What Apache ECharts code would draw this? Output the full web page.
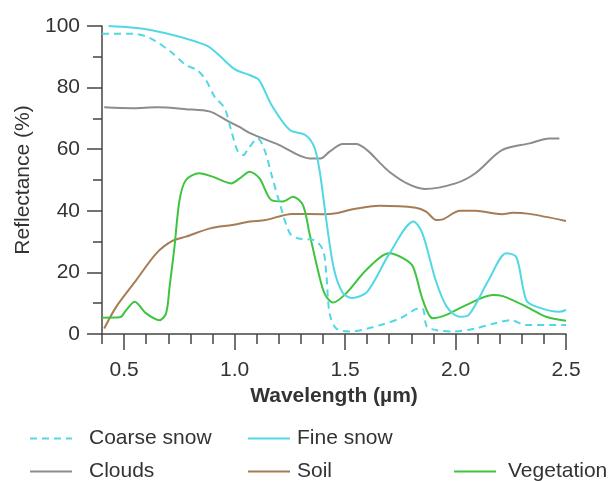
<!DOCTYPE html>
<html>
<head>
<meta charset="utf-8">
<script src="https://cdn.jsdelivr.net/npm/echarts@6/dist/echarts.min.js"></script>
<style>
  html, body { margin: 0; padding: 0; background: #fff; }
  #chart { width: 615px; height: 481px; }
</style>
</head>
<body>
<div id="chart"></div>
<script>
// wavelength (um), reflectance (%)
const coarseSnow = [[0.4,97.5],[0.54,97.5],[0.62,96],[0.71,91.7],[0.78,87.3],[0.83,85.7],[0.87,82.5],[0.91,77],[0.955,73.3],[0.985,66],[1.015,59.2],[1.04,58.1],[1.06,60],[1.105,63.5],[1.136,59.7],[1.17,51],[1.2,43.5],[1.25,32.7],[1.29,31],[1.36,30.5],[1.4,27.3],[1.415,19.7],[1.43,6.7],[1.46,1.8],[1.52,0.8],[1.66,2.9],[1.75,5.1],[1.84,8.4],[1.855,7.8],[1.87,2.4],[1.91,1.3],[1.99,0.8],[2.09,1.8],[2.18,3.5],[2.25,4.5],[2.32,2.9],[2.5,2.9]];
const fineSnow = [[0.43,100],[0.62,98.7],[0.87,93.8],[0.93,90.5],[1.0,86],[1.07,84],[1.11,82.5],[1.17,74],[1.25,66.2],[1.32,64.6],[1.36,60.8],[1.385,53],[1.415,37],[1.45,21],[1.49,13.3],[1.53,11.7],[1.6,13.7],[1.7,26],[1.81,36.5],[1.85,32.7],[1.91,17.5],[1.96,8.9],[2.02,5.6],[2.06,6.2],[2.15,17.5],[2.23,26.2],[2.275,25],[2.32,11],[2.365,8.9],[2.47,7.2],[2.5,7.8]];
const clouds = [[0.41,73.6],[0.54,73.3],[0.65,73.6],[0.78,73],[0.89,72.2],[0.96,69.5],[1.02,67.3],[1.07,65.2],[1.2,61.4],[1.34,57],[1.39,57],[1.43,59.2],[1.49,61.7],[1.55,61.7],[1.6,59.7],[1.66,55.4],[1.7,52.7],[1.78,48.9],[1.86,47.1],[2.0,48.9],[2.09,52.2],[2.21,59.7],[2.335,61.9],[2.425,63.5],[2.47,63.5]];
const soil = [[0.41,1.8],[0.465,8.9],[0.555,17.5],[0.646,26.2],[0.72,30.3],[0.78,31.6],[0.89,34.3],[0.99,35.4],[1.07,36.5],[1.14,37],[1.26,39],[1.4,38.9],[1.46,39.2],[1.535,40.5],[1.656,41.6],[1.82,41],[1.867,39.7],[1.913,37],[1.942,37.2],[2.02,40],[2.09,40],[2.21,38.9],[2.26,39.4],[2.335,39],[2.5,36.7]];
const vegetation = [[0.4,5.3],[0.48,5.4],[0.51,7.8],[0.548,10.5],[0.6,6.7],[0.66,4.5],[0.69,6.7],[0.706,15.4],[0.728,28.3],[0.751,43.5],[0.78,50],[0.84,52.2],[0.9,51.1],[0.985,48.9],[1.023,50.5],[1.068,52.7],[1.113,50.5],[1.166,43.5],[1.219,43],[1.264,44.6],[1.309,41.9],[1.339,32.7],[1.377,20.8],[1.407,13.2],[1.445,10.2],[1.505,13.2],[1.596,20.8],[1.7,26.2],[1.762,24.6],[1.807,21.9],[1.852,11],[1.897,5.1],[1.958,6.2],[2.048,9.4],[2.169,12.7],[2.214,12.3],[2.32,8.9],[2.41,5.6],[2.5,4.3]];

const xMajorTicks = [0.5, 1.0, 1.5, 2.0, 2.5];

const chart = echarts.init(document.getElementById('chart'));

const axisColor = '#444';
const font = 'Liberation Sans, Arial, sans-serif';

const line = (name, data, color, dashed) => ({
  name: name,
  type: 'line',
  data: data,
  smooth: 0.3,
  symbol: 'none',
  lineStyle: { color: color, width: 2, type: dashed ? [7, 5] : 'solid' },
  itemStyle: { color: color }
});

// one legend per item so each sits where the original puts it
const legendAt = (name, left, top, pad) => ({
  data: [name],
  left: left,
  top: top,
  itemWidth: 42,
  itemHeight: 14,
  itemStyle: { opacity: 0 },
  textStyle: { fontSize: 21, color: '#333', fontFamily: font, padding: [0, 0, 0, pad] }
});

const options = {
  animation: false,
  grid: { left: 102, top: 26, width: 464, height: 308 },
  legend: [
    legendAt('Coarse snow', 24, 423, 12),
    legendAt('Fine snow', 242, 423, 2),
    legendAt('Clouds', 24, 456, 12),
    legendAt('Soil', 242, 456, 2),
    legendAt('Vegetation', 448, 456, 7)
  ],
  xAxis: [{
    type: 'value',
    min: 0.4,
    max: 2.5,
    interval: 0.1,
    name: 'Wavelength (µm)',
    nameLocation: 'middle',
    nameGap: 49,
    nameTextStyle: { fontSize: 21, color: '#333', fontFamily: font, fontWeight: 'bold' },
    axisLine: { lineStyle: { color: axisColor, width: 1.5 } },
    axisTick: { length: 10, lineStyle: { color: axisColor, width: 1.5 } },
    axisLabel: {
      interval: 0,
      margin: 26,
      fontSize: 21,
      color: '#333',
      fontFamily: font,
      formatter: v => (Math.abs(v * 2 - Math.round(v * 2)) < 1e-6 ? v.toFixed(1) : '')
    },
    splitLine: { show: false }
  }, {
    type: 'value',
    min: 0.4,
    max: 2.5,
    position: 'bottom',
    axisLine: { show: false },
    axisTick: { customValues: xMajorTicks, length: 16, lineStyle: { color: axisColor, width: 1.5 } },
    axisLabel: { show: false },
    splitLine: { show: false }
  }],
  yAxis: {
    type: 'value',
    min: 0,
    max: 100,
    interval: 20,
    name: 'Reflectance (%)',
    nameLocation: 'middle',
    nameGap: 64,
    nameTextStyle: { fontSize: 21, color: '#333', fontFamily: font },
    axisLine: { show: true, lineStyle: { color: axisColor, width: 1.5 } },
    axisTick: { show: true, length: 15, lineStyle: { color: axisColor, width: 1.5 } },
    minorTick: { show: true, splitNumber: 2, length: 9, lineStyle: { color: axisColor, width: 1.5 } },
    axisLabel: { margin: 22, fontSize: 21, color: '#333', fontFamily: font },
    splitLine: { show: false }
  },
  series: [
    line('Clouds', clouds, '#8c8c8c', false),
    line('Soil', soil, '#a67c55', false),
    line('Vegetation', vegetation, '#3ec43e', false),
    line('Coarse snow', coarseSnow, '#52d8e4', true),
    line('Fine snow', fineSnow, '#52d8e4', false)
  ]
};

chart.setOption(options);
</script>
</body>
</html>
